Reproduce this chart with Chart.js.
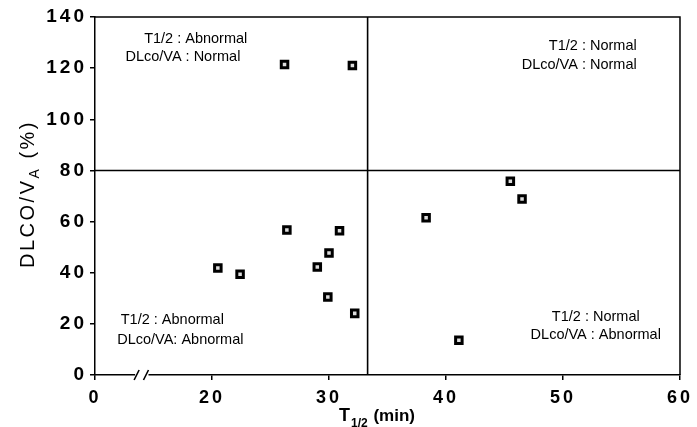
<!DOCTYPE html>
<html lang="en">
<head>
    <meta charset="UTF-8">
    <title>DLCO/VA vs T1/2</title>
    <style>
        html, body {
            margin: 0;
            padding: 0;
            background: #fff;
        }
        #wrap {
            width: 697px;
            height: 427px;
        }
    </style>
</head>
<body>
    <div id="wrap">
        <canvas id="scatterChart" width="697" height="427"></canvas>
    </div>
    <script src="https://cdn.jsdelivr.net/npm/chart.js"></script>
    <script>
        // values
        const halfTimes = [26.2, 32.0, 26.4, 30.9, 30.0, 29.0, 22.4, 20.5, 29.9, 32.2, 38.3, 45.5, 46.5, 41.1];
        const dlcoVa    = [121.4, 121.0, 56.7, 56.4, 47.7, 42.2, 39.4, 41.8, 30.5, 24.1, 61.5, 75.8, 68.8, 13.6];

        // x axis is broken: the first tick sits at 10 but reads "0"
        const xTicks = [10, 20, 30, 40, 50, 60];
        const xTickLabels = ["0", "20", "30", "40", "50", "60"];
        const yTicks = [0, 20, 40, 60, 80, 100, 120, 140];

        const cutHalfTime = 33.3;
        const cutDlco = 80;

        const quadrantNotes = [
            { text: "T1/2 : Abnormal", x: 14.2, y: 131.5, align: "left" },
            { text: "DLco/VA : Normal", x: 12.6, y: 124.2, align: "left" },
            { text: "T1/2 : Normal", x: 56.3, y: 128.6, align: "right" },
            { text: "DLco/VA : Normal", x: 56.3, y: 121.2, align: "right" },
            { text: "T1/2 : Abnormal", x: 12.2, y: 21.5, align: "left" },
            { text: "DLco/VA: Abnormal", x: 11.9, y: 13.7, align: "left" },
            { text: "T1/2 : Normal", x: 52.8, y: 22.7, align: "center" },
            { text: "DLco/VA : Abnormal", x: 52.8, y: 15.6, align: "center" }
        ];

        const points = halfTimes.map((t, i) => ({ x: t, y: dlcoVa[i] }));

        const fontFamily = "'Liberation Sans', Arial, sans-serif";

        const paperPlugin = {
            id: "paper",
            beforeDraw(chart) {
                chart.ctx.letterSpacing = "3px";
            },
            afterDraw(chart) {
                const ctx = chart.ctx;
                const area = chart.chartArea;
                const xs = chart.scales.x;
                ctx.save();
                ctx.letterSpacing = "0px";

                // top and right frame
                ctx.strokeStyle = "#000";
                ctx.lineWidth = 1.5;
                ctx.beginPath();
                ctx.moveTo(area.left, area.top);
                ctx.lineTo(area.right, area.top);
                ctx.lineTo(area.right, area.bottom);
                ctx.stroke();

                // axis break mark
                const b1 = xs.getPixelForValue(13.6);
                const b2 = xs.getPixelForValue(14.4);
                const yb = area.bottom;
                ctx.fillStyle = "#fff";
                ctx.fillRect(b1 - 2, yb - 2, b2 - b1 + 4, 4);
                ctx.lineWidth = 1.6;
                ctx.beginPath();
                ctx.moveTo(b1 - 3, yb + 5);
                ctx.lineTo(b1 + 2, yb - 5);
                ctx.moveTo(b2 - 3, yb + 5);
                ctx.lineTo(b2 + 2, yb - 5);
                ctx.stroke();

                // quadrant notes
                ctx.fillStyle = "#000";
                ctx.font = "14.5px " + fontFamily;
                ctx.textBaseline = "middle";
                quadrantNotes.forEach(n => {
                    ctx.textAlign = n.align;
                    ctx.fillText(n.text, xs.getPixelForValue(n.x), chart.scales.y.getPixelForValue(n.y));
                });

                // y title with subscript
                ctx.save();
                ctx.translate(27, 194);
                ctx.rotate(-Math.PI / 2);
                ctx.letterSpacing = "2.5px";
                const mainFont = "20px " + fontFamily;
                const subFont = "14px " + fontFamily;
                ctx.font = mainFont;
                const w1 = ctx.measureText("DLCO/V").width;
                const w3 = ctx.measureText(" (%)").width;
                ctx.font = subFont;
                const w2 = ctx.measureText("A").width;
                let x0 = -(w1 + w2 + w3) / 2;
                ctx.textAlign = "left";
                ctx.textBaseline = "alphabetic";
                ctx.font = mainFont;
                ctx.fillText("DLCO/V", x0, 7);
                ctx.font = subFont;
                ctx.fillText("A", x0 + w1, 12);
                ctx.font = mainFont;
                ctx.fillText(" (%)", x0 + w1 + w2, 7);
                ctx.restore();

                // x title with subscript
                ctx.textAlign = "left";
                ctx.textBaseline = "alphabetic";
                ctx.font = "bold 18px " + fontFamily;
                const tw = ctx.measureText("T").width;
                ctx.font = "bold 12px " + fontFamily;
                const sw = ctx.measureText("1/2").width;
                ctx.font = "bold 17px " + fontFamily;
                const mw = ctx.measureText(" (min)").width;
                let xt = 376 - (tw + sw + mw) / 2;
                ctx.font = "bold 18px " + fontFamily;
                ctx.fillText("T", xt, 421);
                ctx.font = "bold 12px " + fontFamily;
                ctx.fillText("1/2", xt + tw + 1, 427);
                ctx.font = "bold 17px " + fontFamily;
                ctx.fillText(" (min)", xt + tw + sw + 2, 421);

                ctx.restore();
            }
        };

        const tickFont = { family: fontFamily, size: 18, weight: "bold" };

        new Chart(document.getElementById("scatterChart"), {
            type: "scatter",
            data: {
                datasets: [
                    {
                        label: "patients",
                        data: points,
                        pointStyle: "rect",
                        pointRadius: 4.6,
                        pointBackgroundColor: "#ddd",
                        pointBorderColor: "#000",
                        pointBorderWidth: 3
                    },
                    {
                        label: "T1/2 cut",
                        data: [{ x: cutHalfTime, y: 0 }, { x: cutHalfTime, y: 140 }],
                        showLine: true,
                        pointRadius: 0,
                        borderColor: "#000",
                        borderWidth: 1.6
                    },
                    {
                        label: "DLco/VA cut",
                        data: [{ x: 10, y: cutDlco }, { x: 60, y: cutDlco }],
                        showLine: true,
                        pointRadius: 0,
                        borderColor: "#000",
                        borderWidth: 1.6
                    }
                ]
            },
            options: {
                responsive: false,
                animation: false,
                layout: { padding: { left: 0, top: 17, right: 12, bottom: 0 } },
                plugins: {
                    legend: { display: false },
                    tooltip: { enabled: false }
                },
                scales: {
                    x: {
                        type: "linear",
                        min: 10,
                        max: 60,
                        afterFit: s => { s.height = 52; },
                        afterBuildTicks: s => { s.ticks = xTicks.map(v => ({ value: v })); },
                        grid: { display: true, drawOnChartArea: false, drawTicks: true, tickLength: 5, color: "#000", lineWidth: 1.5 },
                        border: { display: true, color: "#000", width: 1.5 },
                        ticks: {
                            color: "#000",
                            font: tickFont,
                            padding: 7,
                            maxRotation: 0,
                            callback: (v, i) => xTickLabels[i]
                        }
                    },
                    y: {
                        min: 0,
                        max: 140,
                        afterFit: s => { s.width = 95; },
                        afterBuildTicks: s => { s.ticks = yTicks.map(v => ({ value: v })); },
                        grid: { display: true, drawOnChartArea: false, drawTicks: true, tickLength: 5, color: "#000", lineWidth: 1.5 },
                        border: { display: true, color: "#000", width: 1.5 },
                        ticks: {
                            color: "#000",
                            font: { family: fontFamily, size: 19, weight: "bold" },
                            padding: 3
                        }
                    }
                }
            },
            plugins: [paperPlugin]
        });
    </script>
</body>
</html>
